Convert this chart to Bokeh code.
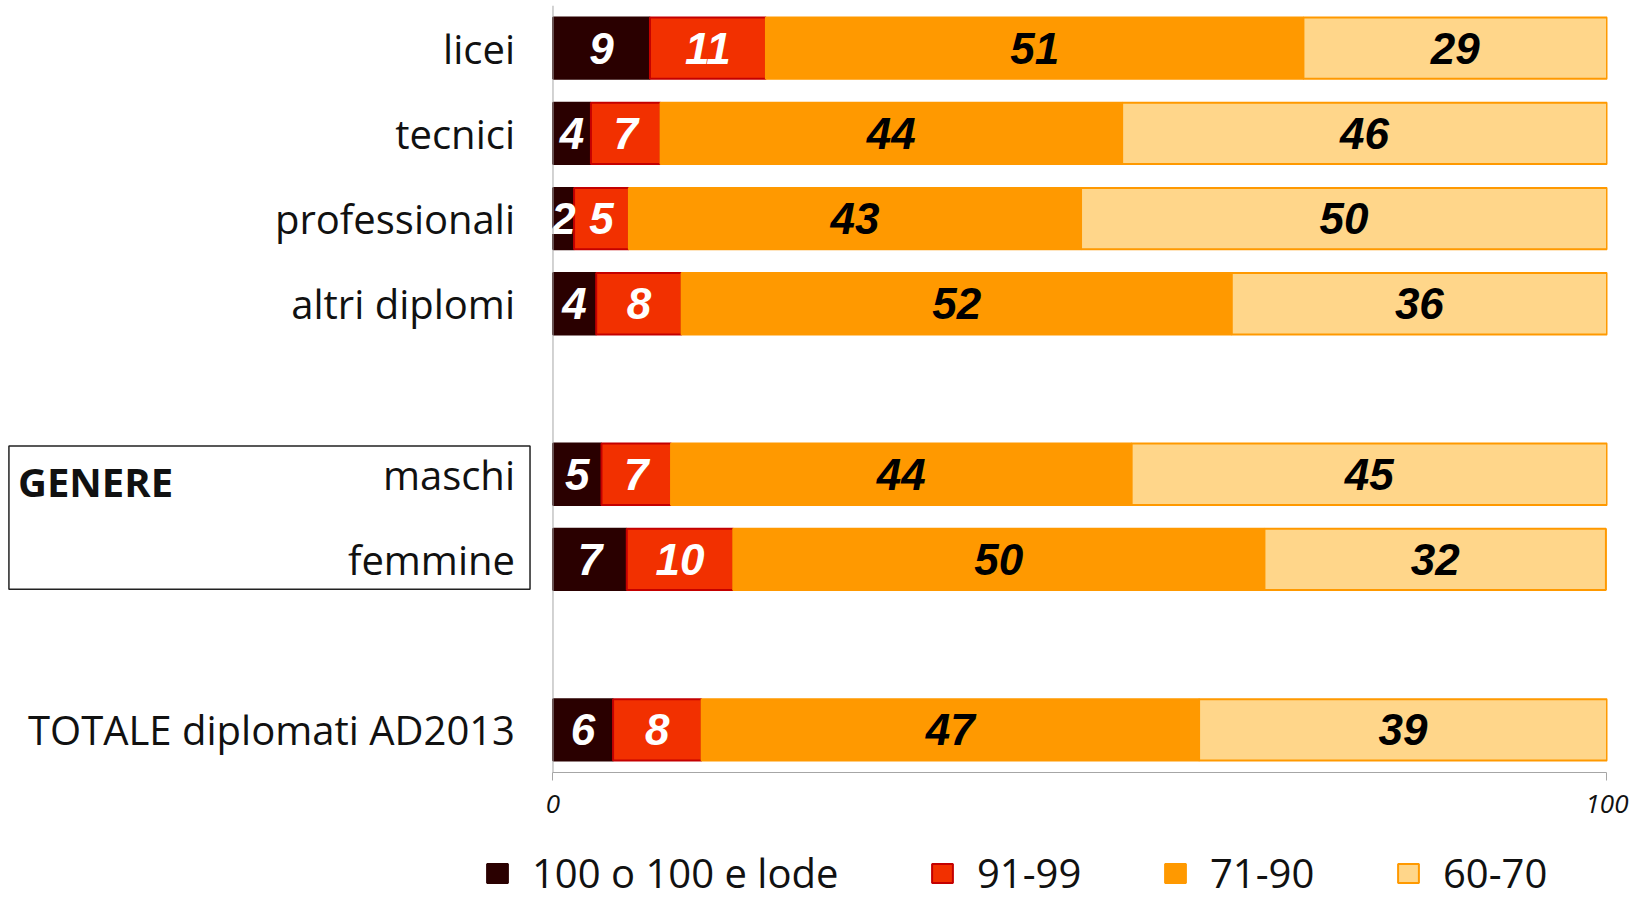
import numpy as np
from bokeh.plotting import figure
from bokeh.layouts import column
from bokeh.models import (Range1d, FixedTicker, Span, BoxAnnotation, Legend,
                          LegendItem, ColumnDataSource)
from bokeh.core.properties import value
from bokeh.embed import file_html
from bokeh.resources import INLINE

# ---------------- data ----------------
groups = [["licei", "tecnici", "professionali", "altri diplomi"],
          ["maschi", "femmine"],
          ["TOTALE diplomati AD2013"]]
group_titles = [None, "GENERE", None]
bands = ["100 o 100 e lode", "91-99", "71-90", "60-70"]
v_lode = [9.2, 3.6, 2.0, 4.1, 4.6, 7.0, 5.7]
v_91_99 = [11.0, 6.6, 5.2, 8.1, 6.6, 10.1, 8.4]
v_71_90 = [51.0, 43.8, 42.9, 52.2, 43.7, 50.4, 47.2]
v_60_70 = [28.8, 46.0, 49.9, 35.6, 45.1, 32.4, 38.7]
x_ticks = [0, 100]

# ---------------- styles ----------------
fills = ["#2A0000", "#F23000", "#FF9900", "#FFD68A"]
lines = ["#2A0000", "#C40000", "#FF9900", "#FF9900"]
label_colors = ["white", "white", "black", "black"]
LABEL_FONT = "Open Sans"
legend_x = [484, 929, 1162, 1395]   # legend entry placement (pixels)

categories = [c for g in groups for c in g]
pos = []
i = 0
for g in groups:
    for _ in g:
        pos.append(i)
        i += 1
    i += 1
series = [v_lode, v_91_99, v_71_90, v_60_70]

src = ColumnDataSource(dict(y=pos, **{b: s for b, s in zip(bands, series)}))

# value labels centred in segments
lx, ly, lt, lc = [], [], [], []
for k, c in enumerate(categories):
    left = 0.0
    for b, s in enumerate(series):
        v = s[k]
        lx.append(left + v / 2)
        ly.append(pos[k])
        lt.append(f"{v:.0f}")
        lc.append(label_colors[b])
        left += v
lab_src = ColumnDataSource(dict(x=lx, y=ly, text=lt, color=lc))

X0 = -52.42
p = figure(width=1631, height=840, output_backend="svg", toolbar_location=None,
           x_range=Range1d(X0, 100.05), y_range=Range1d(pos[-1] + 0.5, -0.5),
           y_axis_location=None, min_border_left=0, min_border_top=5,
           min_border_right=24, min_border_bottom=68)
p.xgrid.visible = False
p.ygrid.visible = False
p.outline_line_color = None

renderers = p.hbar_stack(bands, y="y", height=0.72, source=src,
                         fill_color=fills, line_color=lines, line_width=2)

p.text(x="x", y="y", text="text", text_color="color", source=lab_src,
       text_align="center", text_baseline="middle",
       text_font=value("Liberation Sans"), text_font_style="bold italic",
       text_font_size="44px")

# category labels
cat_src = ColumnDataSource(dict(x=[0] * len(categories), y=pos, text=categories))
p.text(x="x", y="y", text="text", source=cat_src, x_offset=-38,
       text_align="right", text_baseline="middle", text_color="#111111",
       text_font=value(LABEL_FONT), text_font_size="40px")

# group box (GENERE)
start = 0
for g, t in zip(groups, group_titles):
    gp = pos[start:start + len(g)]
    start += len(g)
    if t is None:
        continue
    p.add_layout(BoxAnnotation(left=X0 + 0.8, right=-2.18,
                               top=min(gp) - 0.33, bottom=max(gp) + 0.35,
                               fill_color=None, line_color="#222222",
                               line_alpha=1.0, line_width=1.5))
    gsrc = ColumnDataSource(dict(x=[X0 + 0.8], y=[min(gp)], text=[t]))
    p.text(x="x", y="y", text="text", source=gsrc, x_offset=9, y_offset=7,
           text_align="left", text_baseline="middle", text_color="#111111",
           text_font=value(LABEL_FONT), text_font_style="bold",
           text_font_size="40px")

p.add_layout(Span(location=0, dimension="height", line_color="#A6A6A6",
                  line_width=1))

ax = p.xaxis[0]
ax.ticker = FixedTicker(ticks=x_ticks)
ax.bounds = (0, 100)
ax.axis_line_color = "#A6A6A6"
ax.major_tick_line_color = "#A6A6A6"
ax.major_tick_out = 8
ax.major_tick_in = 0
ax.minor_tick_line_color = None
ax.major_label_text_font = LABEL_FONT
ax.major_label_text_font_style = "italic"
ax.major_label_text_font_size = "26px"
ax.major_label_text_color = "#111111"
ax.major_label_standoff = 14

# ---------------- legend strip ----------------
pl = figure(width=1631, height=60, output_backend="svg", toolbar_location=None,
            x_range=Range1d(0, 1), y_range=Range1d(0, 1),
            x_axis_location=None, y_axis_location=None,
            min_border_left=0, min_border_right=0, min_border_top=0,
            min_border_bottom=0)
pl.xgrid.visible = False
pl.ygrid.visible = False
pl.outline_line_color = None
for b, f, lcol, xx in zip(bands, fills, lines, legend_x):
    # swatch-only renderer (NaN data: nothing drawn, legend swatch kept)
    r = pl.hbar(y=np.array([np.nan]), left=np.array([np.nan]),
                right=np.array([np.nan]), height=0.5, fill_color=f,
                line_color=lcol, line_width=2)
    lg = Legend(items=[LegendItem(label=b, renderers=[r])],
                location=(xx, 0), glyph_width=26, glyph_height=24,
                label_standoff=22, label_text_font=LABEL_FONT,
                label_text_font_size="40px", label_text_color="#111111",
                padding=0, margin=0, border_line_color=None,
                background_fill_alpha=0)
    pl.add_layout(lg, "center")

open("out.html", "w").write(file_html(column(p, pl), INLINE))
